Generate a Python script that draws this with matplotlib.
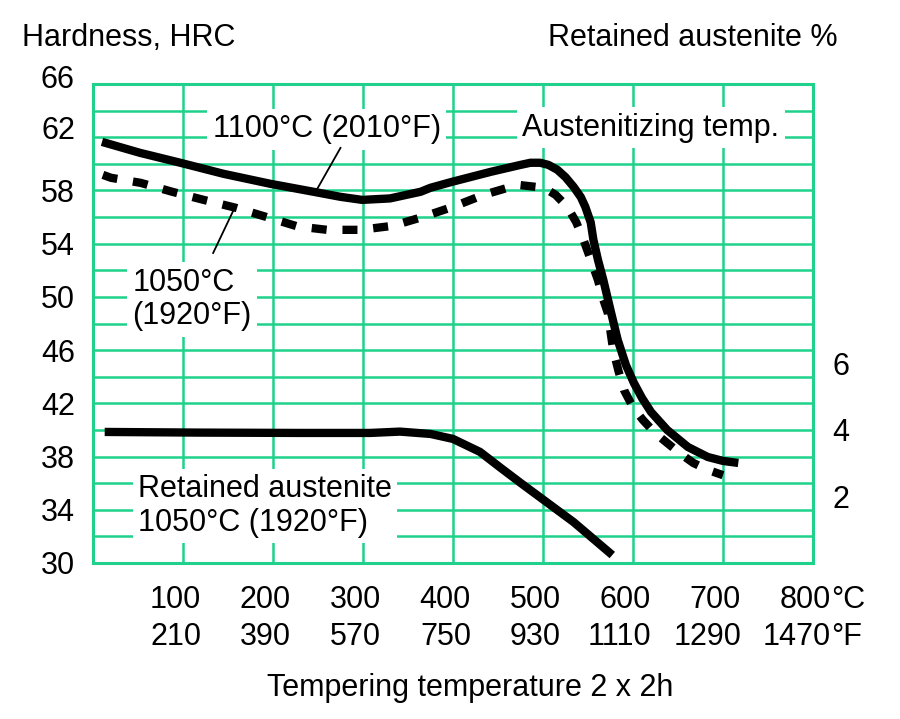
import matplotlib
matplotlib.use('Agg')
import matplotlib.pyplot as plt
import matplotlib.transforms as mtransforms
import numpy as np

plt.rcParams['font.family'] = ['Liberation Sans', 'DejaVu Sans']

# dureza, austenitizado 1100 C (linea continua)
temp_1100 = [10, 52, 97, 145, 197, 249, 275, 299, 330, 364, 375, 399, 442, 475,
             486, 497, 506, 516, 525, 534, 542, 547, 553, 556, 561, 567, 575, 583,
             592, 601, 610, 620, 638, 661, 683, 700, 717]
hrc_1100 = [61.65, 60.83, 60.08, 59.25, 58.5, 57.85, 57.52, 57.29, 57.4, 57.9,
            58.2, 58.65, 59.4, 59.92, 60.08, 60.08, 59.92, 59.55, 59.0, 58.27,
            57.5, 56.77, 55.6, 54.29, 52.8, 51.28, 49.0, 46.77, 44.9, 43.53, 42.4,
            41.35, 40.0, 38.72, 37.97, 37.67, 37.52]

# dureza, austenitizado 1050 C (linea de trazos)
temp_1050 = [11, 20, 53, 88, 123, 159, 192, 227, 260, 297, 333, 366, 400, 434,
             472, 501, 514, 527, 537, 545, 553, 561, 567, 572, 578, 584, 590, 600,
             611, 624, 638, 653, 667, 683, 700]
hrc_1050 = [59.17, 58.95, 58.57, 57.9, 57.29, 56.69, 56.02, 55.3, 55.04, 55.04,
            55.34, 56.0, 56.77, 57.67, 58.42, 58.2, 57.67, 56.77, 55.6, 54.29,
            52.8, 51.28, 49.8, 48.8, 46.0, 44.4, 43.0, 41.7, 40.75, 39.8, 39.02,
            38.2, 37.52, 37.0, 36.6]

# austenita retenida %, 1050 C
temp_ra = [13, 119, 230, 308, 341, 375, 400, 430, 453, 475, 501, 534, 577]
ra_pct = [3.94, 3.92, 3.91, 3.91, 3.95, 3.88, 3.73, 3.34, 2.86, 2.41, 1.89, 1.23, 0.24]

ticks_c = [100, 200, 300, 400, 500, 600, 700, 800]
labels_c = ['100', '200', '300', '400', '500', '600', '700', '800']
labels_f = ['210', '390', '570', '750', '930', '1110', '1290', '1470']
ticks_hrc = [30, 34, 38, 42, 46, 50, 54, 58, 62, 66]
ticks_ra = [2, 4, 6]

verde = '#1fd18b'
fs = 22

fig = plt.figure(figsize=(9, 7.19), dpi=100)
ax = fig.add_axes([93 / 900, 156 / 719, 720 / 900, 479 / 719])
ax.set_xlim(0, 800)
ax.set_ylim(30, 66)

ax.set_xticks(np.arange(0, 801, 100))
ax.set_xticklabels([])
ax.set_yticks(ticks_hrc)
ax.set_yticks(np.arange(30, 67, 2), minor=True)
ax.tick_params(axis='both', which='both', length=0)
ax.tick_params(axis='y', labelsize=fs, pad=13)
ax.grid(True, which='both', color=verde, linewidth=1.8, zorder=0)
ax.set_axisbelow(True)
for s in ax.spines.values():
    s.set_color(verde)
    s.set_linewidth(2.2)

# en el original las dos etiquetas de arriba quedan algo mas altas
for lab, dy in zip(ax.get_yticklabels()[-2:], [-10, -7]):
    lab.set_transform(lab.get_transform() +
                      mtransforms.ScaledTranslation(0, -dy / 100, fig.dpi_scale_trans))

ax.plot(temp_1100, hrc_1100, color='black', linewidth=6, solid_capstyle='butt',
        solid_joinstyle='round', zorder=3)
ax.plot(temp_1050, hrc_1050, color='black', linewidth=6, linestyle=(0, (1.8, 1.9)),
        dash_capstyle='butt', dash_joinstyle='round', zorder=3)

# eje derecho: austenita retenida
ax2 = ax.twinx()
ax2.set_ylim(0, 14.4)
ax2.set_yticks(ticks_ra)
ax2.tick_params(axis='y', length=0, labelsize=fs, pad=14)
for s in ax2.spines.values():
    s.set_visible(False)
ax2.plot(temp_ra, ra_pct, color='black', linewidth=6, solid_capstyle='butt',
         solid_joinstyle='round')

# etiquetas del eje x en dos filas
trans = mtransforms.blended_transform_factory(ax.transData, ax.transAxes)
off = mtransforms.ScaledTranslation(18 / 100, 0, fig.dpi_scale_trans)
for t, c, f in zip(ticks_c, labels_c, labels_f):
    ax.text(t, -37 / 479, c, transform=trans + off, ha='right', va='center', fontsize=fs)
    ax.text(t, -74 / 479, f, transform=trans + off, ha='right', va='center', fontsize=fs)
ax.text(800, -37 / 479, '°C', transform=trans + off, ha='left', va='center', fontsize=fs)
ax.text(800, -74 / 479, '°F', transform=trans + off, ha='left', va='center', fontsize=fs)

fig.text(0.522, 0.043, 'Tempering temperature 2 x 2h', ha='center', va='center', fontsize=fs)
fig.text(0.024, 0.947, 'Hardness, HRC', ha='left', va='center', fontsize=fs)
fig.text(0.931, 0.947, 'Retained austenite %', ha='right', va='center', fontsize=fs)

caja = dict(facecolor='white', edgecolor='none', pad=4)
ax.text(133, 62.6, '1100°C (2010°F)', ha='left', va='center', fontsize=fs, bbox=caja, zorder=2)
ax.text(477, 62.7, 'Austenitizing temp.', ha='left', va='center', fontsize=fs, bbox=caja, zorder=2)
ax.text(44, 49.8, '1050°C\n(1920°F)', ha='left', va='center', fontsize=fs, linespacing=1.15,
        bbox=caja, zorder=2)
ax.text(50, 34.3, 'Retained austenite\n1050°C (1920°F)', ha='left', va='center', fontsize=fs,
        linespacing=1.15, bbox=caja, zorder=2)

ax.plot([275, 249], [61.2, 58.1], color='black', linewidth=1.3, zorder=3)
ax.plot([156, 133.5], [56.5, 53.3], color='black', linewidth=1.3, zorder=3)

fig.savefig('out.png', dpi=100)
